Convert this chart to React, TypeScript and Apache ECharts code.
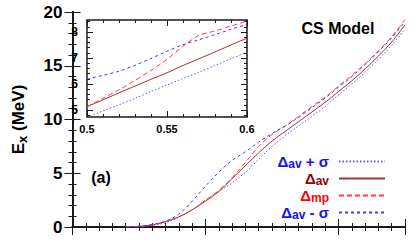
import React, { useEffect, useRef } from "react";
import * as echarts from "echarts";

// main panel (x in arbitrary units, no labels)
const mainX = [4, 5, 6, 7, 8, 9, 10, 11, 12, 13, 14, 15, 16, 17, 18, 19, 20, 21, 22, 23, 24, 25];
const avPlusSigma = [0, 0.03, 0.15, 0.4, 0.9, 1.6, 2.5, 3.3, 4.1, 5.1, 6.3, 7.5, 8.5, 9.4, 10.3, 11.2, 12.3, 13.3, 14.4, 15.6, 16.9, 18.4];
const av = [0, 0.05, 0.2, 0.5, 0.95, 1.6, 2.4, 3.3, 4.5, 5.7, 6.9, 8.0, 8.9, 9.8, 10.7, 11.6, 12.6, 13.6, 14.7, 15.9, 17.2, 18.8];
const mp = [0, 0.05, 0.2, 0.5, 0.95, 1.6, 2.5, 3.4, 4.6, 6.0, 7.5, 8.6, 9.4, 10.3, 11.2, 12.1, 13.1, 14.1, 15.2, 16.4, 17.7, 19.3];
const avMinusSigma = [0, 0.08, 0.25, 0.55, 1.2, 2.4, 3.8, 5.1, 6.2, 7.0, 7.9, 8.7, 9.4, 10.2, 11.1, 12.0, 13.0, 14.0, 15.1, 16.3, 17.6, 19.1];

// inset
const insetX = [0.5, 0.51, 0.52, 0.53, 0.54, 0.55, 0.56, 0.57, 0.58, 0.59, 0.6];
const insetAvPlusSigma = [4.72, 4.96, 5.2, 5.45, 5.71, 5.96, 6.21, 6.46, 6.71, 6.97, 7.22];
const insetAv = [5.13, 5.39, 5.66, 5.92, 6.18, 6.43, 6.71, 6.97, 7.23, 7.5, 7.76];
const insetMp = [5.13, 5.45, 5.78, 6.14, 6.52, 6.95, 7.45, 7.87, 8.04, 8.23, 8.42];
const insetAvMinusSigma = [6.19, 6.33, 6.49, 6.72, 6.98, 7.26, 7.51, 7.7, 7.9, 8.1, 8.3];

const insetYLabels = [5, 6, 7, 8];
const insetYMinor = [4.8, 5.2, 5.4, 5.6, 5.8, 6.2, 6.4, 6.6, 6.8, 7.2, 7.4, 7.6, 7.8, 8.2, 8.4];

const NAMES = ["Δav + σ", "Δav", "Δmp", "Δav - σ"];
const FONT = "Liberation Sans";
const BLUE_TXT = "#1010ff";
const DARKRED_TXT = "#990000";
const RED_TXT = "#ff0000";

const styles: Record<string, any> = {
  "Δav + σ": { color: "#5a5aff", type: [1.5, 2] },
  "Δav": { color: "#a83232", type: "solid" },
  "Δmp": { color: "#ff4040", type: [5, 3] },
  "Δav - σ": { color: "#3c3cff", type: [3, 3] },
};

const pair = (xs: number[], ys: number[]) => xs.map((x, i) => [x, ys[i]]);

export default function App() {
  const ref = useRef<HTMLDivElement>(null);
  useEffect(() => {
    const chart = echarts.init(ref.current!, null, { renderer: "svg" });
    const frame = { show: true, lineStyle: { color: "#1a1a1a", width: 2 } };
    const mainXAxis = (pos: string) => ({
      type: "value",
      gridIndex: 0,
      position: pos,
      min: 0,
      max: 25,
      interval: 10,
      axisLine: frame,
      axisTick: { show: true, inside: true, length: 8, lineStyle: { color: "#1a1a1a", width: 1 } },
      minorTick: { show: true, splitNumber: 10, length: 4, lineStyle: { color: "#1a1a1a", width: 1 } },
      axisLabel: { show: false },
      splitLine: { show: false },
      minorSplitLine: { show: false },
    });
    const mainYAxis = (pos: string, labels: boolean) => ({
      type: "value",
      gridIndex: 0,
      position: pos,
      min: 0,
      max: 20,
      interval: 5,
      axisLine: frame,
      axisTick: { show: true, inside: true, length: 8, lineStyle: { color: "#1a1a1a", width: 1 } },
      minorTick: { show: true, splitNumber: 5, length: 4, lineStyle: { color: "#1a1a1a", width: 1 } },
      axisLabel: {
        show: labels,
        fontSize: 17,
        fontWeight: "bold",
        fontFamily: FONT,
        color: "#000",
        margin: 10,
      },
      splitLine: { show: false },
      name: labels ? "{e|E}{s|x}{e| (MeV)}" : "",
      nameLocation: "middle",
      nameGap: 45,
      nameRotate: 90,
      nameTextStyle: {
        rich: {
          e: { fontSize: 17, fontWeight: "bold", fontFamily: FONT, color: "#000", lineHeight: 18 },
          s: { fontSize: 13, fontWeight: "bold", fontFamily: FONT, color: "#000", lineHeight: 13, padding: [8, 0, 0, 0] },
        },
      },
    });
    const insetFrame = { show: true, lineStyle: { color: "#1a1a1a", width: 1.5 } };
    const insetXAxis = (pos: string, labels: boolean) => ({
      type: "value",
      gridIndex: 1,
      position: pos,
      min: 0.5,
      max: 0.6,
      interval: 0.05,
      axisLine: insetFrame,
      axisTick: { show: true, inside: true, length: 6, lineStyle: { color: "#1a1a1a", width: 1 } },
      minorTick: { show: true, splitNumber: 5, length: 3, lineStyle: { color: "#1a1a1a", width: 1 } },
      axisLabel: {
        show: labels,
        fontSize: 11,
        fontWeight: "bold",
        fontFamily: FONT,
        color: "#000",
        margin: 6,
        formatter: (v: number) => String(parseFloat(v.toFixed(2))),
      },
      splitLine: { show: false },
    });
    const insetYAxis = (pos: string, labels: boolean, minor: boolean) => ({
      type: "value",
      gridIndex: 1,
      position: pos,
      min: 4.73,
      max: 8.46,
      axisLine: minor ? { show: false } : insetFrame,
      axisTick: {
        show: true,
        inside: true,
        length: minor ? 3 : 6,
        customValues: minor ? insetYMinor : insetYLabels,
        lineStyle: { color: "#1a1a1a", width: 1 },
      },
      axisLabel: {
        show: labels,
        customValues: insetYLabels,
        fontSize: 12,
        fontWeight: "bold",
        fontFamily: FONT,
        color: "#000",
        margin: 9,
      },
      splitLine: { show: false },
    });

    const legendRich = (color: string) => ({
      d: { fontSize: 15, fontWeight: "bold", fontFamily: FONT, color, lineHeight: 15 },
      s: { fontSize: 12, fontWeight: "bold", fontFamily: FONT, color, lineHeight: 12, padding: [5, 0, 0, 0] },
    });
    const legendText: Record<string, string> = {
      "Δav + σ": "{d|Δ}{s|av}{d| + σ}",
      "Δav": "{d|Δ}{s|av}",
      "Δmp": "{d|Δ}{s|mp}",
      "Δav - σ": "{d|Δ}{s|av}{d| - σ}",
    };
    const legendColor: Record<string, string> = {
      "Δav + σ": BLUE_TXT,
      "Δav": DARKRED_TXT,
      "Δmp": RED_TXT,
      "Δav - σ": BLUE_TXT,
    };

    const mainData: Record<string, number[]> = {
      "Δav + σ": avPlusSigma,
      "Δav": av,
      "Δmp": mp,
      "Δav - σ": avMinusSigma,
    };
    const insetData: Record<string, number[]> = {
      "Δav + σ": insetAvPlusSigma,
      "Δav": insetAv,
      "Δmp": insetMp,
      "Δav - σ": insetAvMinusSigma,
    };
    const series: any[] = [];
    NAMES.forEach((n) => {
      series.push({
        name: n,
        type: "line",
        xAxisIndex: 0,
        yAxisIndex: 0,
        data: pair(mainX, mainData[n]),
        showSymbol: false,
        symbol: "none",
        smooth: 0.35,
        lineStyle: { width: 1, ...styles[n] },
        itemStyle: { color: styles[n].color },
      });
    });
    NAMES.forEach((n) => {
      series.push({
        name: n,
        type: "line",
        xAxisIndex: 2,
        yAxisIndex: 2,
        data: pair(insetX, insetData[n]),
        showSymbol: false,
        symbol: "none",
        smooth: 0.3,
        lineStyle: { width: 1, ...styles[n] },
        itemStyle: { color: styles[n].color },
      });
    });

    chart.setOption({
      animation: false,
      backgroundColor: "#fff",
      grid: [
        { left: 55, right: 11, top: 12, bottom: 13 },
        { left: 87, top: 20, width: 160, height: 97 },
      ],
      xAxis: [mainXAxis("bottom"), mainXAxis("top"), insetXAxis("bottom", true), insetXAxis("top", false)],
      yAxis: [
        mainYAxis("left", true),
        mainYAxis("right", false),
        insetYAxis("left", true, false),
        insetYAxis("left", false, true),
        insetYAxis("right", false, false),
        insetYAxis("right", false, true),
      ],
      legend: {
        orient: "vertical",
        right: 30,
        top: 153,
        height: 80,
        padding: 0,
        align: "right",
        itemWidth: 46,
        itemHeight: 10,
        itemGap: 0,
        selectedMode: false,
        itemStyle: { opacity: 0 },
        data: NAMES.map((n) => ({
          name: n,
          textStyle: { color: legendColor[n], rich: legendRich(legendColor[n]), padding: [0, 5, 0, 0] },
        })),
        formatter: (name: string) => legendText[name],
      },
      graphic: [
        {
          type: "text",
          x: 338,
          y: 28,
          style: {
            text: "CS Model",
            font: `bold 16px "${FONT}"`,
            fill: "#000",
            align: "center",
            verticalAlign: "middle",
            textAlign: "center",
            textVerticalAlign: "middle",
          },
        },
        {
          type: "text",
          x: 101,
          y: 177,
          style: {
            text: "(a)",
            font: `bold 16px "${FONT}"`,
            fill: "#000",
            align: "center",
            verticalAlign: "middle",
            textAlign: "center",
            textVerticalAlign: "middle",
          },
        },
      ],
      series,
    });
    return () => chart.dispose();
  }, []);
  return <div ref={ref} style={{ position: "absolute", left: 0, top: 0, width: 416, height: 240 }} />;
}
